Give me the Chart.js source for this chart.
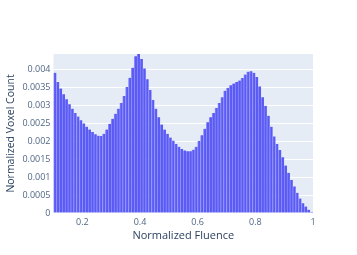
<!DOCTYPE html>
<html>
<head>
<meta charset="utf-8">
<script src="https://cdn.jsdelivr.net/npm/chart.js@4.4.1/dist/chart.umd.min.js"></script>
<style>
  html, body { margin: 0; padding: 0; background: #fff; }
  #wrap { width: 357px; height: 255px; }
</style>
</head>
<body>
<div id="wrap"><canvas id="chart"></canvas></div>
<script>
// histogram bin centres (bin width 0.01)
var binCenters = [
  0.105, 0.115, 0.125, 0.135, 0.145, 0.155, 0.165, 0.175, 0.185, 0.195,
  0.205, 0.215, 0.225, 0.235, 0.245, 0.255, 0.265, 0.275, 0.285, 0.295,
  0.305, 0.315, 0.325, 0.335, 0.345, 0.355, 0.365, 0.375, 0.385, 0.395,
  0.405, 0.415, 0.425, 0.435, 0.445, 0.455, 0.465, 0.475, 0.485, 0.495,
  0.505, 0.515, 0.525, 0.535, 0.545, 0.555, 0.565, 0.575, 0.585, 0.595,
  0.605, 0.615, 0.625, 0.635, 0.645, 0.655, 0.665, 0.675, 0.685, 0.695,
  0.705, 0.715, 0.725, 0.735, 0.745, 0.755, 0.765, 0.775, 0.785, 0.795,
  0.805, 0.815, 0.825, 0.835, 0.845, 0.855, 0.865, 0.875, 0.885, 0.895,
  0.905, 0.915, 0.925, 0.935, 0.945, 0.955, 0.965, 0.975, 0.985, 0.995
];

// normalized voxel count per bin
var voxelCounts = [
  0.00390, 0.00364, 0.00346, 0.00330, 0.00316, 0.00302, 0.00290, 0.00278, 0.00268, 0.00258,
  0.00249, 0.00240, 0.00232, 0.00225, 0.00219, 0.00215, 0.00214, 0.00220, 0.00232, 0.00248,
  0.00262, 0.00276, 0.00290, 0.00306, 0.00325, 0.00350, 0.00376, 0.00404, 0.00436, 0.00442,
  0.00428, 0.00402, 0.00372, 0.00342, 0.00314, 0.00290, 0.00266, 0.00246, 0.00232, 0.00220,
  0.00210, 0.00201, 0.00192, 0.00184, 0.00178, 0.00174, 0.00172, 0.00172, 0.00176, 0.00184,
  0.00200, 0.00216, 0.00234, 0.00252, 0.00266, 0.00278, 0.00292, 0.00306, 0.00322, 0.00340,
  0.00348, 0.00355, 0.00360, 0.00364, 0.00368, 0.00375, 0.00385, 0.00393, 0.00394, 0.00390,
  0.00378, 0.00352, 0.00322, 0.00298, 0.00270, 0.00240, 0.00213, 0.00192, 0.00175, 0.00155,
  0.00132, 0.00112, 0.00092, 0.00074, 0.00056, 0.00040, 0.00027, 0.00018, 0.00009, 0.00003
];

var xTicks = [0.2, 0.4, 0.6, 0.8, 1];
var yTicks = [0, 0.0005, 0.001, 0.0015, 0.002, 0.0025, 0.003, 0.0035, 0.004];

var points = binCenters.map(function (x, i) { return { x: x, y: voxelCounts[i] }; });

// plotly-ish plot background
var plotBg = {
  id: 'plotBg',
  beforeDraw: function (chart) {
    var a = chart.chartArea, c = chart.ctx;
    c.save();
    c.fillStyle = '#E5ECF6';
    c.fillRect(a.left, a.top, a.right - a.left, a.bottom - a.top);
    c.restore();
  }
};

var ctx = document.getElementById('chart').getContext('2d');
var myChart = new Chart(ctx, {
  type: 'bar',
  data: {
    datasets: [{
      data: points,
      backgroundColor: '#5a5af4',
      borderColor: '#8c8cfa',
      borderWidth: { left: 1, right: 0, top: 0, bottom: 0 },
      borderSkipped: false,
      barPercentage: 1,
      categoryPercentage: 1
    }]
  },
  options: {
    responsive: true,
    maintainAspectRatio: false,
    animation: false,
    layout: { padding: { left: 0, right: 44, top: 54, bottom: 0 } },
    plugins: { legend: { display: false }, tooltip: { enabled: false } },
    scales: {
      x: {
        type: 'linear',
        min: 0.1,
        max: 1,
        offset: false,
        afterBuildTicks: function (s) { s.ticks = xTicks.map(function (v) { return { value: v }; }); },
        afterFit: function (s) { s.height = 42; },
        grid: { display: false, drawTicks: false },
        border: { display: false },
        ticks: {
          color: '#506784',
          padding: 4,
          maxRotation: 0,
          font: { family: 'Open Sans', size: 9 },
          callback: function (v) { return String(v); }
        },
        title: {
          display: true,
          text: 'Normalized Fluence',
          color: '#2a3f5f',
          font: { family: 'Open Sans', size: 11 },
          padding: { top: 0, bottom: 13 }
        }
      },
      y: {
        min: 0,
        max: 0.00442,
        afterBuildTicks: function (s) { s.ticks = yTicks.map(function (v) { return { value: v }; }); },
        afterFit: function (s) { s.width = 53.5; },
        grid: { color: '#ffffff', lineWidth: 1, drawTicks: false },
        border: { display: false },
        ticks: {
          color: '#506784',
          padding: 3,
          font: { family: 'Open Sans', size: 9 },
          callback: function (v) { return String(+v.toFixed(4)); }
        },
        title: {
          display: true,
          text: 'Normalized Voxel Count',
          color: '#2a3f5f',
          font: { family: 'Open Sans', size: 10.5 },
          padding: { top: 5, bottom: 0 }
        }
      }
    }
  },
  plugins: [plotBg]
});
</script>
</body>
</html>
